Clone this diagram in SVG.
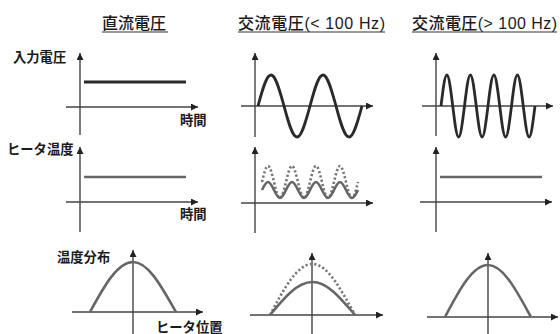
<svg xmlns="http://www.w3.org/2000/svg" width="560" height="334" viewBox="0 0 560 334">
<defs>
<marker id="ah" markerUnits="userSpaceOnUse" markerWidth="8" markerHeight="7" refX="7" refY="3.5" orient="auto">
<path d="M0,0 L7,3.5 L0,7 z" fill="#222"/>
</marker>
<style>
.t{font-family:"Liberation Sans","Noto Sans CJK JP",sans-serif;fill:#1a1a1a;font-weight:700}
.ttl{font-size:16px;font-weight:500}
.lbl{font-size:13.3px}
.ax{stroke:#444;stroke-width:1.4;fill:none;marker-end:url(#ah)}
.ul{stroke:#333;stroke-width:1.2}
.v{stroke:#2a2a2a;stroke-width:2.8;fill:none;stroke-linejoin:round}
.h{stroke:#666;stroke-width:2.6;fill:none}
.d{stroke:#777;stroke-width:2.6;fill:none;stroke-dasharray:2.2 2.2}
</style>
</defs>
<rect width="560" height="334" fill="#fff"/>

<g id="titles">
<text class="t ttl" x="102" y="29">直流電圧</text>
<line class="ul" x1="102" y1="32" x2="168" y2="32"/>
<text class="t ttl" x="238" y="29" textLength="147" lengthAdjust="spacing">交流電圧(&lt; 100 Hz)</text>
<line class="ul" x1="238" y1="32" x2="385" y2="32"/>
<text class="t ttl" x="412" y="29" textLength="145" lengthAdjust="spacing">交流電圧(&gt; 100 Hz)</text>
<line class="ul" x1="412" y1="32" x2="557" y2="32"/>
</g>

<g id="labels">
<text class="t lbl" x="13" y="62">入力電圧</text>
<text class="t lbl" x="7" y="154">ヒータ温度</text>
<text class="t lbl" x="180" y="125">時間</text>
<text class="t lbl" x="180" y="219">時間</text>
<text class="t lbl" x="57" y="262">温度分布</text>
<text class="t lbl" x="156" y="332">ヒータ位置</text>
</g>

<g id="dc-voltage">
<line class="ax" x1="66" y1="107" x2="198" y2="107"/>
<line class="ax" x1="80" y1="135" x2="80" y2="53"/>
<line class="v" x1="84" y1="82" x2="186" y2="82"/>
</g>

<g id="ac-low-voltage">
<line class="ax" x1="241" y1="106" x2="373" y2="106"/>
<line class="ax" x1="255" y1="137" x2="255" y2="53"/>
<path class="v" d="M258,106 c4.24,-15.88 8.3,-31 13,-31 c4.7,0 8.76,15.88 13,31 c4.24,15.88 8.3,31 13,31 c4.7,0 8.76,-15.88 13,-31 c4.24,-15.88 8.3,-31 13,-31 c4.7,0 8.76,15.88 13,31 c4.24,15.88 8.3,31 13,31 c4.7,0 8.76,-15.88 13,-31"/>
</g>

<g id="ac-high-voltage">
<line class="ax" x1="422" y1="106" x2="553" y2="106"/>
<line class="ax" x1="436" y1="136" x2="436" y2="53"/>
<path class="v" d="M441,106 c1.92,-15.88 3.75,-31 5.875,-31 c2.125,0 3.955,15.88 5.875,31 c1.92,15.88 3.75,31 5.875,31 c2.125,0 3.955,-15.88 5.875,-31 c1.92,-15.88 3.75,-31 5.875,-31 c2.125,0 3.955,15.88 5.875,31 c1.92,15.88 3.75,31 5.875,31 c2.125,0 3.955,-15.88 5.875,-31 c1.92,-15.88 3.75,-31 5.875,-31 c2.125,0 3.955,15.88 5.875,31 c1.92,15.88 3.75,31 5.875,31 c2.125,0 3.955,-15.88 5.875,-31 c1.92,-15.88 3.75,-31 5.875,-31 c2.125,0 3.955,15.88 5.875,31 c1.92,15.88 3.75,31 5.875,31 c2.125,0 3.955,-15.88 5.875,-31"/>
</g>

<g id="dc-temp">
<line class="ax" x1="66" y1="202" x2="198" y2="202"/>
<line class="ax" x1="80" y1="232" x2="80" y2="147"/>
<line class="h" x1="84" y1="177" x2="186" y2="177"/>
</g>

<g id="ac-low-temp">
<line class="ax" x1="241" y1="203" x2="373" y2="203"/>
<line class="ax" x1="255" y1="233" x2="255" y2="147"/>
<path class="d" d="M262,182 c1.96,-8.2 3.83,-16 6,-16 c2.17,0 4.04,8.2 6,16 c1.96,8.2 3.83,16 6,16 c2.17,0 4.04,-8.2 6,-16 c1.96,-8.2 3.83,-16 6,-16 c2.17,0 4.04,8.2 6,16 c1.96,8.2 3.83,16 6,16 c2.17,0 4.04,-8.2 6,-16 c1.96,-8.2 3.83,-16 6,-16 c2.17,0 4.04,8.2 6,16 c1.96,8.2 3.83,16 6,16 c2.17,0 4.04,-8.2 6,-16 c1.96,-8.2 3.83,-16 6,-16 c2.17,0 4.04,8.2 6,16 c1.96,8.2 3.83,16 6,16 c2.17,0 4.04,-8.2 6,-16"/>
<path class="h" d="M262,190 c1.96,-4.1 3.83,-8 6,-8 c2.17,0 4.04,4.1 6,8 c1.96,4.1 3.83,8 6,8 c2.17,0 4.04,-4.1 6,-8 c1.96,-4.1 3.83,-8 6,-8 c2.17,0 4.04,4.1 6,8 c1.96,4.1 3.83,8 6,8 c2.17,0 4.04,-4.1 6,-8 c1.96,-4.1 3.83,-8 6,-8 c2.17,0 4.04,4.1 6,8 c1.96,4.1 3.83,8 6,8 c2.17,0 4.04,-4.1 6,-8 c1.96,-4.1 3.83,-8 6,-8 c2.17,0 4.04,4.1 6,8 c1.96,4.1 3.83,8 6,8 c2.17,0 4.04,-4.1 6,-8"/>
</g>

<g id="ac-high-temp">
<line class="ax" x1="420" y1="202" x2="552" y2="202"/>
<line class="ax" x1="436" y1="232" x2="436" y2="147"/>
<line class="h" x1="440" y1="177" x2="542" y2="177"/>
</g>

<g id="dc-dist">
<line class="ax" x1="72" y1="312" x2="203" y2="312"/>
<line class="ax" x1="133" y1="334" x2="133" y2="250"/>
<path class="h" d="M90,312 c14.02,-25.6 27.44,-50 43,-50 c15.56,0 28.98,25.6 43,50"/>
</g>

<g id="ac-low-dist">
<line class="ax" x1="250" y1="315" x2="383" y2="315"/>
<line class="ax" x1="312" y1="334" x2="312" y2="253"/>
<path class="d" d="M270,315 c13.86,-26.13 27.12,-51 42.5,-51 c15.38,0 28.64,26.13 42.5,51"/>
<path class="h" d="M270,315 c13.86,-16.9 27.12,-33 42.5,-33 c15.38,0 28.64,16.9 42.5,33"/>
</g>

<g id="ac-high-dist">
<line class="ax" x1="427" y1="317" x2="558" y2="317"/>
<line class="ax" x1="488" y1="334" x2="488" y2="253"/>
<path class="h" d="M445,317 c14.02,-26.64 27.44,-52 43,-52 c15.56,0 28.98,26.64 43,52"/>
</g>
</svg>
